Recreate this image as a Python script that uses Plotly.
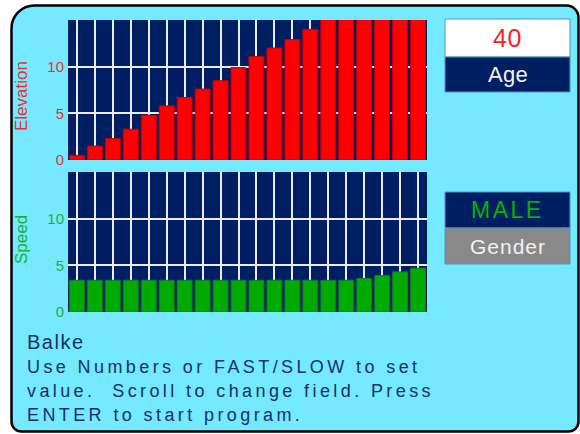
import plotly.graph_objects as go

W, H = 580, 434

# ---------------- data ----------------
bars = [1, 2, 3, 4, 5, 6, 7, 8, 9, 10, 11, 12, 13, 14, 15, 16, 17, 18, 19, 20]
elevation = [0.5, 1.5, 2.3, 3.3, 4.8, 5.8, 6.7, 7.6, 8.5, 9.9,
             11.1, 12.0, 12.9, 14.0, 15.2, 16.3, 17.4, 18.5, 19.6, 20.7]
speed = [3.4, 3.4, 3.4, 3.4, 3.4, 3.4, 3.4, 3.4, 3.4, 3.4,
         3.4, 3.4, 3.4, 3.4, 3.4, 3.4, 3.6, 3.9, 4.3, 4.7]
y_ticks = [0, 5, 10]
y_range = [0, 15]

elev_title = "Elevation"
speed_title = "Speed"
age_value = "40"
age_label = "Age"
gender_value = "MALE"
gender_label = "Gender"
program_name = "Balke"
instructions = [
    "Use Numbers or FAST/SLOW to set",
    "value.\u00a0 Scroll to change field. Press",
    "ENTER to start program.",
]

# ---------------- styles ----------------
CYAN = "#74E9FF"
NAVY = "#001E62"
RED = "#FF0000"
GREEN = "#00AA00"
LABEL_RED = "#E8302D"
LABEL_GREEN = "#1EAE3C"
TEXT_NAVY = "#12306E"
FONT = "Liberation Sans, Arial, sans-serif"


def px(x):
    return x / W


def py(y):
    return 1 - y / H


def rounded_path(x0, y0, x1, y1, rtl, rtr, rbr, rbl):
    k = 0.5523
    def P(x, y):
        return f"{px(x):.5f},{py(y):.5f}"
    s = f"M {P(x0 + rtl, y0)} L {P(x1 - rtr, y0)} "
    s += f"C {P(x1 - rtr + k*rtr, y0)} {P(x1, y0 + rtr - k*rtr)} {P(x1, y0 + rtr)} "
    s += f"L {P(x1, y1 - rbr)} "
    s += f"C {P(x1, y1 - rbr + k*rbr)} {P(x1 - rbr + k*rbr, y1)} {P(x1 - rbr, y1)} "
    s += f"L {P(x0 + rbl, y1)} "
    s += f"C {P(x0 + rbl - k*rbl, y1)} {P(x0, y1 - rbl + k*rbl)} {P(x0, y1 - rbl)} "
    s += f"L {P(x0, y0 + rtl)} "
    s += f"C {P(x0, y0 + rtl - k*rtl)} {P(x0 + rtl - k*rtl, y0)} {P(x0 + rtl, y0)} Z"
    return s


fig = go.Figure()
fig.add_trace(go.Bar(x=bars, y=elevation, xaxis="x", yaxis="y",
                     marker=dict(color=RED, line=dict(color="#C80000", width=1)),
                     hoverinfo="skip"))
fig.add_trace(go.Bar(x=bars, y=speed, xaxis="x2", yaxis="y2",
                     marker=dict(color=GREEN, line=dict(color="#0B7D2B", width=1)),
                     hoverinfo="skip"))

xdom = [px(68), px(427)]
common_x = dict(domain=xdom, range=[0.5, 20.5], tickmode="array", tickvals=bars,
                showticklabels=False, showgrid=True, gridcolor="#ECECF4", gridwidth=2,
                zeroline=False, showline=False, ticks="", fixedrange=True, automargin=False)
common_y = dict(range=y_range, tickmode="array", tickvals=y_ticks, showgrid=True,
                gridcolor="#ECECF4", gridwidth=2, zeroline=False, showline=False,
                ticks="", ticklabelstandoff=3, fixedrange=True, automargin=False)

shapes = []
border = rounded_path(11.5, 5.5, 578.5, 431.5, 23, 12, 10, 10)
# white outside of rounded border
shapes.append(dict(type="path", xref="paper", yref="paper",
                   path="M 0,1 L 1,1 L 1,0 L 0,0 Z " + border,
                   fillrule="evenodd", fillcolor="white", line=dict(width=0), layer="above"))
shapes.append(dict(type="path", xref="paper", yref="paper", path=border,
                   line=dict(color="black", width=2.5), layer="above"))


def box(x0, y0, x1, y1, color):
    shapes.append(dict(type="rect", xref="paper", yref="paper",
                       x0=px(x0), x1=px(x1), y0=py(y1), y1=py(y0),
                       fillcolor=color, line=dict(color="#4D94C8", width=1), layer="above"))


box(445, 19, 570, 57, "white")
box(445, 57, 570, 92, NAVY)
box(445, 192, 570, 228, NAVY)
box(445, 228, 570, 264, "#898989")

annotations = []


def text(x, y, s, size, color, xanchor="center", yanchor="middle", angle=0, ls=None):
    if ls is not None:
        s = f"<span style='letter-spacing:{ls}px'>{s}</span>"
    annotations.append(dict(x=px(x), y=py(y), xref="paper", yref="paper", text=s,
                            showarrow=False, xanchor=xanchor, yanchor=yanchor,
                            textangle=angle, font=dict(family=FONT, size=size, color=color)))


text(507.5, 38, age_value, 25, "#FF1A1A", ls=0.5)
text(507.5, 74.5, age_label, 22, "#F2F2F2", ls=0.3)
text(507.5, 210, gender_value, 23, "#00B400", ls=2.5)
text(507.5, 246, gender_label, 21, "#F2F2F2", ls=1)

text(21, 96, elev_title, 17, LABEL_RED, angle=-90)
text(21, 240, speed_title, 17, LABEL_GREEN, angle=-90)

text(25, 342, program_name, 20, TEXT_NAVY, xanchor="left", ls=1.5)
for i, line in enumerate(instructions):
    text(25, 366.5 + 24 * i, line, 18, TEXT_NAVY, xanchor="left", ls=3.4)

fig.update_layout(
    width=W, height=H, autosize=False,
    margin=dict(l=0, r=0, t=0, b=0, pad=0, autoexpand=False),
    paper_bgcolor=CYAN, plot_bgcolor=NAVY,
    showlegend=False, bargap=0.17,
    font=dict(family=FONT),
    xaxis=dict(common_x, anchor="y"),
    yaxis=dict(common_y, domain=[py(160), py(20)], anchor="x",
               tickfont=dict(family=FONT, size=15, color=LABEL_RED)),
    xaxis2=dict(common_x, anchor="y2"),
    yaxis2=dict(common_y, domain=[py(312), py(172)], anchor="x2",
                tickfont=dict(family=FONT, size=15, color=LABEL_GREEN)),
    shapes=shapes, annotations=annotations,
)

fig.write_html("out.html", config={"displayModeBar": False, "responsive": False},
               post_script="document.body.style.margin='0px';document.body.style.overflow='hidden';")
